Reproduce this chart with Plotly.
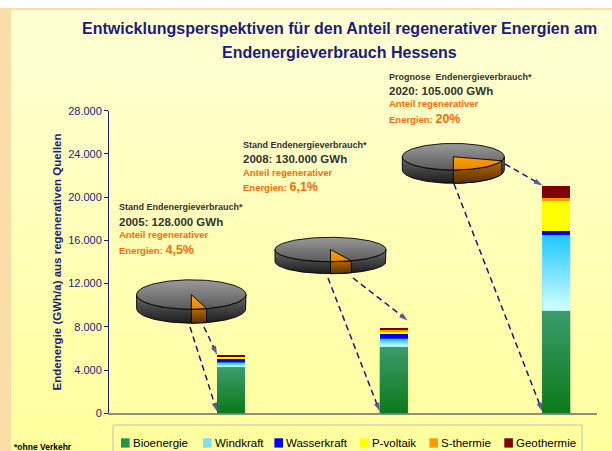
import numpy as np
import plotly.graph_objects as go

# ---------------- data ----------------
years = ["2005", "2008", "2020"]
consumption_gwh = [128000, 130000, 105000]
renewable_share_pct = [4.5, 6.1, 20.0]
block_headers = ["Stand Endenergieverbrauch*", "Stand Endenergieverbrauch*",
                 "Prognose  Endenergieverbrauch*"]

sources = ["Bioenergie", "Windkraft", "Wasserkraft", "P-voltaik", "S-thermie", "Geothermie"]
bioenergie = [4280, 6160, 9480]
windkraft = [430, 740, 7020]
wasserkraft = [430, 430, 430]
p_voltaik = [120, 310, 2740]
s_thermie = [60, 125, 280]
geothermie = [120, 185, 1140]

y_max = 28000
y_step = 4000

title_lines = ["Entwicklungsperspektiven für den Anteil regenerativer Energien am",
               "Endenergieverbrauch Hessens"]
y_title = "Endenergie (GWh/a) aus regenerativen Quellen"
footnote = "*ohne Verkehr"

# ---------------- style / layout constants ----------------
W, H = 612, 451
PLOT_L, PLOT_R, PLOT_T, PLOT_B = 109, 597, 110.7, 413.3
X_RANGE = [-0.75, 2.25]
BAR_W = 0.172
NAVY = "#1B1B80"
FONT = "Liberation Sans, Arial, sans-serif"
source_colors = ["#269050", "#7EDDFB", "#0000FF", "#FFFF00", "#FF9900", "#800000"]
gradient_colors = {0: ("#3C9C6C", "#0A7A1A"), 1: ("#1EC6FF", "#D2FFFF")}
series = [bioenergie, windkraft, wasserkraft, p_voltaik, s_thermie, geothermie]


def to_px_x(xi):
    return PLOT_L + (xi - X_RANGE[0]) / (X_RANGE[1] - X_RANGE[0]) * (PLOT_R - PLOT_L)


def to_px_y(v):
    return PLOT_B - v / y_max * (PLOT_B - PLOT_T)


def fmt_de(v):
    return f"{v:,}".replace(",", ".")


def fmt_pct(v):
    return (f"{v:.1f}".replace(".", ",") if v % 1 else f"{int(v)}") + "%"


fig = go.Figure()

# ---------------- stacked bars (axes x / y) ----------------
for name, vals, col in zip(sources, series, source_colors):
    fig.add_trace(go.Bar(x=years, y=vals, name=name, width=BAR_W,
                         marker=dict(color=col, line=dict(width=0)),
                         xaxis="x", yaxis="y", showlegend=False))

totals = [sum(v[i] for v in series) for i in range(len(years))]


# ---------------- overlay helpers (pixel axes x2 / y2) ----------------
def poly(xs, ys, c_top, c_bot, lw=0.9):
    # on the reversed pixel axis, colorscale 0 lies at the bottom of the screen
    fig.add_trace(go.Scatter(
        x=list(xs), y=list(ys), mode="lines", fill="toself",
        fillgradient=dict(type="vertical", colorscale=[[0, c_bot], [1, c_top]]),
        line=dict(color="black", width=lw), hoverinfo="skip", showlegend=False,
        xaxis="x2", yaxis="y2"))


# gradient shading of the large bar segments (computed from the data)
for i in range(len(years)):
    left = to_px_x(i - BAR_W / 2)
    right = to_px_x(i + BAR_W / 2)
    base = 0
    for s_idx, vals in enumerate(series):
        lo, hi = base, base + vals[i]
        base = hi
        if s_idx in gradient_colors:
            ct, cb = gradient_colors[s_idx]
            y0, y1 = to_px_y(lo), to_px_y(hi)
            poly([left, right, right, left, left], [y1, y1, y0, y0, y1], ct, cb, lw=0)

# ---------------- 3D pies ----------------
pie_geom = [(191.3, 294.5, 54.7, 14.7, 14.0),
            (330.5, 249.5, 55.5, 12.2, 12.0),
            (453.3, 156.7, 51.0, 13.3, 13.3)]

for (cx, cy, rx, ry, h), share in zip(pie_geom, renewable_share_pct):
    th = 2 * np.pi * share / 100.0
    t = np.linspace(-np.pi / 2, np.pi / 2, 90)
    xt, yt = cx + rx * np.sin(t), cy + ry * np.cos(t)
    poly(np.r_[xt, xt[::-1], xt[0]], np.r_[yt, yt[::-1] + h, yt[0]], "#6a6a6a", "#1c1c1c")
    ts = np.linspace(0, min(th, np.pi / 2), 40)
    xs, ys = cx + rx * np.sin(ts), cy + ry * np.cos(ts)
    poly(np.r_[xs, xs[::-1], xs[0]], np.r_[ys, ys[::-1] + h, ys[0]], "#B86A00", "#5A3000")
    t = np.linspace(0, 2 * np.pi, 160)
    poly(cx + rx * np.sin(t), cy + ry * np.cos(t), "#9a9a9a", "#5a5a5a")
    ts = np.linspace(0, th, 40)
    poly(np.r_[cx, cx + rx * np.sin(ts), cx], np.r_[cy, cy + ry * np.cos(ts), cy],
         "#FFA000", "#E58600")

# ---------------- dashed arrows ----------------
starts_a = [(190, 327), (328, 278), (454, 184)]
starts_b = [(204, 327), (353, 278), (505, 164)]
tip_right = [False, True, False]
for i in range(len(years)):
    left = to_px_x(i - BAR_W / 2)
    right = to_px_x(i + BAR_W / 2)
    ends = [(left, to_px_y(0) - 2)]
    if tip_right[i]:
        ends.append((right, to_px_y(totals[i]) - 7))
    else:
        ends.append((left, to_px_y(totals[i])))
    for (x0, y0), (x1, y1) in zip([starts_a[i], starts_b[i]], ends):
        fig.add_trace(go.Scatter(
            x=[x0, x1], y=[y0, y1], mode="lines+markers",
            line=dict(color="#16168C", width=1.5, dash="6px,4px"),
            marker=dict(symbol=["circle", "arrow"], size=[0, 9], angleref="previous",
                        color="#16168C", line=dict(width=0)),
            hoverinfo="skip", showlegend=False, xaxis="x2", yaxis="y2"))

# ---------------- background shapes (paper = whole figure) ----------------
def pxp(x):
    return x / W


def pyp(y):
    return 1 - y / H


shapes = []
shapes.append(dict(type="rect", xref="paper", yref="paper", x0=0, x1=1, y0=0, y1=1,
                   fillcolor="#FBDDA8", line=dict(width=0), layer="below"))
shapes.append(dict(type="rect", xref="paper", yref="paper", x0=0, x1=1, y0=pyp(8), y1=1,
                   fillcolor="#FFFFFF", line=dict(width=0), layer="below"))
n_bands = 40
c0 = np.array([255, 255, 212])
c1 = np.array([255, 255, 158])
y_top = 10
for k in range(n_bands):
    f = k / (n_bands - 1)
    c = (c0 * (1 - f) + c1 * f).astype(int)
    ya = y_top + (H - y_top) * k / n_bands
    yb = min(H, y_top + (H - y_top) * (k + 1) / n_bands + 0.6)
    shapes.append(dict(type="rect", xref="paper", yref="paper", x0=pxp(11), x1=1,
                       y0=pyp(yb), y1=pyp(ya),
                       fillcolor=f"rgb({c[0]},{c[1]},{c[2]})", line=dict(width=0),
                       layer="below"))

# legend box
shapes.append(dict(type="rect", xref="x2", yref="y2", x0=113, x1=582, y0=425, y1=456,
                   fillcolor="rgba(0,0,0,0)", line=dict(color="#BCC2CC", width=1)))

# ---------------- annotations ----------------
ann = []
title_y = [28, 52]
for txt, ty in zip(title_lines, title_y):
    ann.append(dict(x=339, y=ty, xref="x2", yref="y2", text=f"<b>{txt}</b>", showarrow=False,
                    xanchor="center", yanchor="middle",
                    font=dict(family=FONT, size=16, color=NAVY)))

block_pos = [(117.3, 207.3), (241.0, 145.0), (387.3, 76.7)]
line_off = [0, 14.2, 27.2, 42.4]
for i, (bx, by) in enumerate(block_pos):
    lines = [
        (f"<b>{block_headers[i]}</b>", 9, "#333333"),
        (f"<b>{years[i]}: {fmt_de(consumption_gwh[i])} GWh</b>", 11.5, "#333333"),
        ("<b>Anteil regenerativer</b>", 9.5, "#FF6A00"),
        (f"<b>Energien: <span style='font-size:12.5px'>{fmt_pct(renewable_share_pct[i])}</span></b>",
         9.5, "#FF6A00"),
    ]
    for (txt, sz, col), off in zip(lines, line_off):
        ann.append(dict(x=bx, y=by + off, xref="x2", yref="y2", text=txt, showarrow=False,
                        xanchor="left", yanchor="middle",
                        font=dict(family=FONT, size=sz, color=col)))

ann.append(dict(x=56.7, y=261.7, xref="x2", yref="y2", text=f"<b>{y_title}</b>", textangle=-90,
                showarrow=False, xanchor="center", yanchor="middle",
                font=dict(family=FONT, size=11.5, color=NAVY)))
ann.append(dict(x=12, y=447, xref="x2", yref="y2", text=f"<b>{footnote}</b>", showarrow=False,
                xanchor="left", yanchor="middle", font=dict(family=FONT, size=8.5, color="black")))

# manual legend
legend_sym_x = [121, 203, 274.4, 359.9, 429.4, 504.3]
for s_idx, (name, col, sx) in enumerate(zip(sources, source_colors, legend_sym_x)):
    shapes.append(dict(type="rect", xref="x2", yref="y2", x0=sx, x1=sx + 8.6, y0=438.3, y1=447.6,
                       fillcolor=col, line=dict(width=0)))
    ann.append(dict(x=sx + 9.6, y=442.8, xref="x2", yref="y2", text=name, showarrow=False,
                    xanchor="left", yanchor="middle",
                    font=dict(family=FONT, size=11.5, color="black")))

# ---------------- layout ----------------
fig.update_layout(
    template="none",
    width=W, height=H, margin=dict(l=0, r=0, t=0, b=0, pad=0), autosize=False,
    paper_bgcolor="#FFFFFF", plot_bgcolor="rgba(0,0,0,0)",
    separators=",.", barmode="stack", bargap=0, showlegend=False,
    font=dict(family=FONT),
    xaxis=dict(domain=[PLOT_L / W, PLOT_R / W], anchor="y", type="category",
               categoryorder="array", categoryarray=years, range=X_RANGE, automargin=False,
               showticklabels=False, ticks="", showgrid=False, zeroline=False,
               showline=True, linecolor="#8C8C8C", linewidth=2, fixedrange=True),
    yaxis=dict(domain=[1 - PLOT_B / H, 1 - PLOT_T / H], anchor="x", range=[0, y_max],
               tick0=0, dtick=y_step, tickformat=",d", showgrid=False, automargin=False,
               zeroline=False, showline=True, linecolor=NAVY, linewidth=1,
               ticks="outside", ticklen=4, tickcolor=NAVY,
               tickfont=dict(family=FONT, size=11, color=NAVY), fixedrange=True),
    xaxis2=dict(domain=[0, 1], anchor="y2", range=[0, W], visible=False, fixedrange=True,
                automargin=False),
    yaxis2=dict(domain=[0, 1], anchor="x2", range=[H, 0], visible=False, fixedrange=True,
                automargin=False),
    shapes=shapes, annotations=ann,
)

fig.write_html("out.html", config={"displayModeBar": False},
               post_script="document.body.style.margin='0px';document.body.style.overflow='hidden';")
